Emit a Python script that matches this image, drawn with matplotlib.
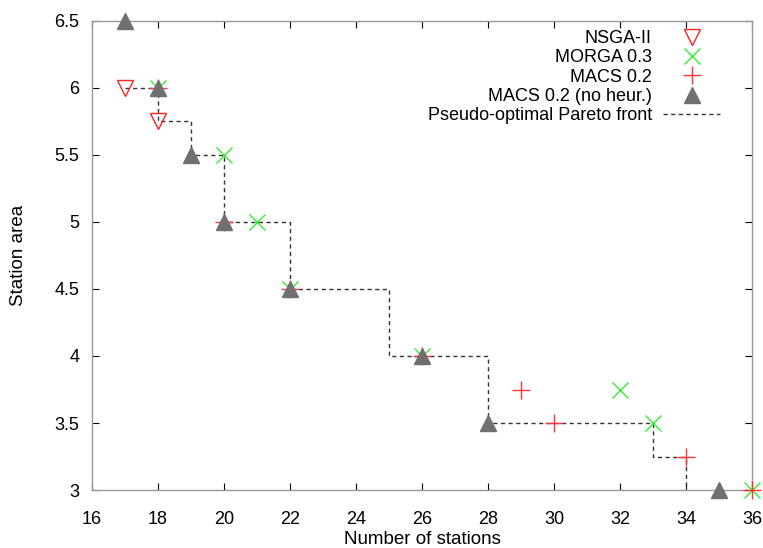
import numpy as np
import matplotlib
matplotlib.use("Agg")
import matplotlib.pyplot as plt

plt.rcParams['font.family'] = ['Liberation Sans', 'DejaVu Sans']

# data
nsga_x = [17, 18]
nsga_y = [6.0, 5.75]

morga_x = [18, 20, 21, 22, 26, 32, 33, 36]
morga_y = [6.0, 5.5, 5.0, 4.5, 4.0, 3.75, 3.5, 3.0]

macs_x = [18, 20, 22, 26, 29, 30, 34, 36]
macs_y = [6.0, 5.0, 4.5, 4.0, 3.75, 3.5, 3.25, 3.0]

noheur_x = [17, 18, 19, 20, 22, 26, 28, 35]
noheur_y = [6.5, 6.0, 5.5, 5.0, 4.5, 4.0, 3.5, 3.0]

front_x = [17, 18, 19, 20, 22, 25, 28, 33, 34]
front_y = [6.0, 5.75, 5.5, 5.0, 4.5, 4.0, 3.5, 3.25, 3.0]

x_ticks = list(range(16, 37, 2))
y_ticks = [3, 3.5, 4, 4.5, 5, 5.5, 6, 6.5]

fig = plt.figure(figsize=(7.63, 5.48), dpi=100)
ax = fig.add_axes([0.1206, 0.1058, 0.865, 0.856])

ax.plot(nsga_x, nsga_y, linestyle='none', marker='v', ms=11, mfc='none',
        mec='#ff2020', mew=1.0, label='NSGA-II', clip_on=False, zorder=3)
ax.plot(morga_x, morga_y, linestyle='none', marker='x', ms=12,
        color='#33ee33', mew=1.0, label='MORGA 0.3', clip_on=False, zorder=4)
ax.plot(macs_x, macs_y, linestyle='none', marker='+', ms=13,
        color='#ff3333', mew=1.0, label='MACS 0.2', clip_on=False, zorder=4)
ax.plot(noheur_x, noheur_y, linestyle='none', marker='^', ms=12,
        color='#707070', label='MACS 0.2 (no heur.)', clip_on=False, zorder=5)
ax.plot(front_x, front_y, drawstyle='steps-post', color='#333333', lw=1.0,
        dashes=(3, 2.5), label='Pseudo-optimal Pareto front', zorder=2)

ax.set_xlim(16, 36)
ax.set_ylim(3, 6.5)
ax.set_xticks(x_ticks)
ax.set_yticks(y_ticks)
ax.set_yticklabels(['%g' % v for v in y_ticks])
ax.tick_params(direction='in', length=5, width=0.8, top=True, right=True,
               labelsize=13, colors='black')
ax.tick_params(axis='x', pad=15)
ax.tick_params(axis='y', pad=9)
for sp in ax.spines.values():
    sp.set_color('#999999')
    sp.set_linewidth(1.0)

ax.set_xlabel('Number of stations', fontsize=13.5, labelpad=2)
ax.set_ylabel('Station area', fontsize=13.5, labelpad=20)

ax.legend(loc='upper right', bbox_to_anchor=(0.97, 1.005), frameon=False,
          markerfirst=False, fontsize=13, labelspacing=0.12, handlelength=3.2,
          handletextpad=0.6, borderpad=0.15)

fig.savefig('out.png', dpi=100)
